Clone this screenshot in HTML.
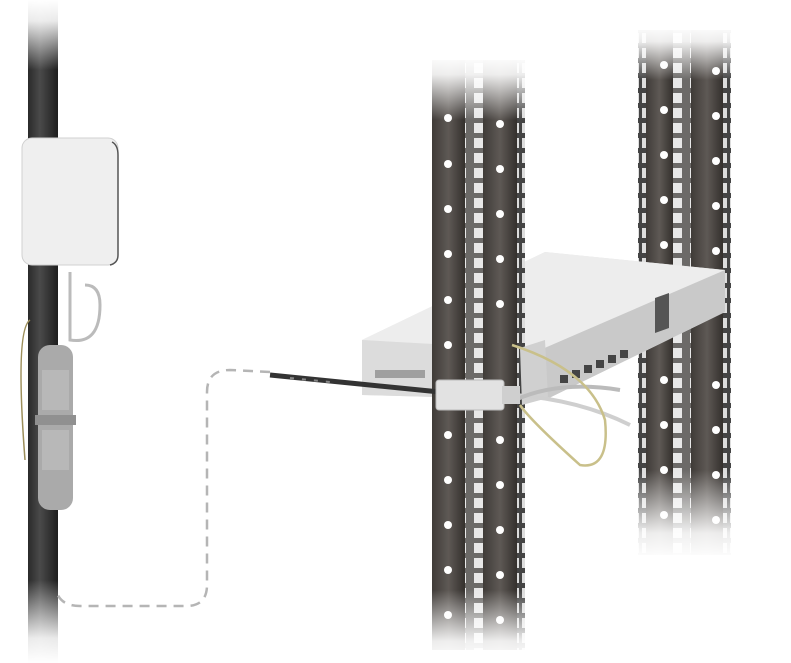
<!DOCTYPE html>
<html><head><style>html,body{margin:0;padding:0;background:#fff;width:791px;height:663px;overflow:hidden}</style></head>
<body>
<svg width="791" height="663" viewBox="0 0 791 663" xmlns="http://www.w3.org/2000/svg">
<defs>
<linearGradient id="post" x1="0" x2="1"><stop offset="0" stop-color="#3f3b38"/><stop offset=".5" stop-color="#5e5955"/><stop offset="1" stop-color="#34302d"/></linearGradient>
<linearGradient id="pole" x1="0" x2="1"><stop offset="0" stop-color="#2a2a2a"/><stop offset=".4" stop-color="#4a4a4a"/><stop offset="1" stop-color="#1e1e1e"/></linearGradient>
<linearGradient id="fadeT" x1="0" y1="0" x2="0" y2="1"><stop offset="0" stop-color="#fff" stop-opacity="1"/><stop offset=".3" stop-color="#fff" stop-opacity=".9"/><stop offset="1" stop-color="#fff" stop-opacity="0"/></linearGradient>
<linearGradient id="fadeB" x1="0" y1="0" x2="0" y2="1"><stop offset="0" stop-color="#fff" stop-opacity="0"/><stop offset=".7" stop-color="#fff" stop-opacity=".9"/><stop offset="1" stop-color="#fff" stop-opacity="1"/></linearGradient>
<pattern id="slots" width="18" height="15" patternUnits="userSpaceOnUse"><rect width="18" height="15" fill="#6c6a68"/><rect x="6" y="3" width="10" height="10" fill="#e8e8e8"/></pattern>
<pattern id="slots2" width="8" height="15" patternUnits="userSpaceOnUse"><rect width="8" height="15" fill="#444"/><rect x="2" y="3" width="5" height="10" fill="#ddd"/></pattern>
</defs>

<rect x="28" y="0" width="30" height="663" fill="url(#pole)"/>
<rect x="20" y="0" width="50" height="70" fill="url(#fadeT)"/>
<rect x="20" y="580" width="50" height="83" fill="url(#fadeB)"/>

<path d="M270 372 L230 370 Q207 370 207 392 L207 585 Q207 606 186 606 L80 606 Q60 606 56 590" fill="none" stroke="#b5b5b5" stroke-width="2.5" stroke-dasharray="10 7"/>

<rect x="638" y="30" width="8" height="525" fill="url(#slots2)"/>
<rect x="646" y="30" width="27" height="525" fill="url(#post)"/>
<rect x="673" y="30" width="18" height="525" fill="url(#slots)"/>
<rect x="691" y="30" width="32" height="525" fill="url(#post)"/>
<rect x="723" y="30" width="8" height="525" fill="url(#slots2)"/>
<g fill="#fff">
<circle cx="664" cy="65" r="4"/><circle cx="664" cy="110" r="4"/><circle cx="664" cy="155" r="4"/><circle cx="664" cy="200" r="4"/><circle cx="664" cy="245" r="4"/><circle cx="664" cy="380" r="4"/><circle cx="664" cy="425" r="4"/><circle cx="664" cy="470" r="4"/><circle cx="664" cy="515" r="4"/>
<circle cx="716" cy="71" r="4"/><circle cx="716" cy="116" r="4"/><circle cx="716" cy="161" r="4"/><circle cx="716" cy="206" r="4"/><circle cx="716" cy="251" r="4"/><circle cx="716" cy="385" r="4"/><circle cx="716" cy="430" r="4"/><circle cx="716" cy="475" r="4"/><circle cx="716" cy="520" r="4"/>
</g>
<rect x="630" y="25" width="110" height="55" fill="url(#fadeT)"/>
<rect x="630" y="470" width="110" height="90" fill="url(#fadeB)"/>

<polygon points="362,340 545,252 725,270 725,312 545,400 362,395" fill="#e4e4e4"/>
<polygon points="362,340 545,252 725,270 540,350" fill="#ededed"/>
<polygon points="540,350 725,270 725,312 545,400" fill="#c9c9c9"/>
<polygon points="362,340 540,350 545,400 362,395" fill="#dcdcdc"/>
<polygon points="655,298 669,293 669,328 655,333" fill="#555"/>
<g fill="#444"><rect x="560" y="375" width="8" height="8"/><rect x="572" y="370" width="8" height="8"/><rect x="584" y="365" width="8" height="8"/><rect x="596" y="360" width="8" height="8"/><rect x="608" y="355" width="8" height="8"/><rect x="620" y="350" width="8" height="8"/></g>
<rect x="375" y="370" width="50" height="8" fill="#777" opacity=".6"/>

<rect x="432" y="60" width="33" height="590" fill="url(#post)"/>
<rect x="465" y="60" width="18" height="590" fill="url(#slots)"/>
<rect x="483" y="60" width="34" height="590" fill="url(#post)"/>
<rect x="517" y="60" width="8" height="590" fill="url(#slots2)"/>
<g fill="#fff">
<circle cx="448" cy="118" r="4"/><circle cx="448" cy="164" r="4"/><circle cx="448" cy="209" r="4"/><circle cx="448" cy="254" r="4"/><circle cx="448" cy="300" r="4"/><circle cx="448" cy="345" r="4"/><circle cx="448" cy="435" r="4"/><circle cx="448" cy="480" r="4"/><circle cx="448" cy="525" r="4"/><circle cx="448" cy="570" r="4"/><circle cx="448" cy="615" r="4"/>
<circle cx="500" cy="124" r="4"/><circle cx="500" cy="169" r="4"/><circle cx="500" cy="214" r="4"/><circle cx="500" cy="259" r="4"/><circle cx="500" cy="304" r="4"/><circle cx="500" cy="440" r="4"/><circle cx="500" cy="485" r="4"/><circle cx="500" cy="530" r="4"/><circle cx="500" cy="575" r="4"/><circle cx="500" cy="620" r="4"/>
</g>
<rect x="425" y="55" width="105" height="65" fill="url(#fadeT)"/>
<rect x="425" y="590" width="105" height="73" fill="url(#fadeB)"/>
<polygon points="520,348 545,340 548,398 522,405" fill="#d0d0d0"/>

<path d="M270 375 L440 392" stroke="#333" stroke-width="5" fill="none"/>
<path d="M290 378 L330 382" stroke="#888" stroke-width="2" stroke-dasharray="4 8"/>
<path d="M515 395 Q580 400 630 425" stroke="#cfcfcf" stroke-width="4" fill="none"/>
<path d="M515 400 Q560 380 620 390" stroke="#bbb" stroke-width="4" fill="none"/>
<path d="M512 345 Q590 370 605 420 Q610 470 580 465 Q530 420 520 405" stroke="#c9c08a" stroke-width="2.5" fill="none"/>
<rect x="436" y="380" width="68" height="30" rx="3" fill="#e2e2e2" stroke="#bbb"/>
<rect x="502" y="386" width="18" height="18" fill="#cfcfcf"/>

<rect x="22" y="138" width="96" height="127" rx="10" fill="#efefef" stroke="#d0d0d0"/>
<path d="M112 142 Q118 145 118 155 L118 255 Q118 263 110 265" stroke="#555" stroke-width="1.5" fill="none"/>
<path d="M70 272 L70 340 Q100 345 100 305 Q100 285 85 285" stroke="#bbb" stroke-width="3" fill="none"/>
<path d="M30 320 Q15 330 25 460" stroke="#9c8e5a" stroke-width="1.5" fill="none"/>
<rect x="38" y="345" width="35" height="165" rx="12" fill="#aaaaaa"/>
<rect x="35" y="415" width="41" height="10" fill="#909090"/>
<rect x="42" y="370" width="27" height="40" fill="#b8b8b8"/>
<rect x="42" y="430" width="27" height="40" fill="#b8b8b8"/>
</svg>
</body></html>
